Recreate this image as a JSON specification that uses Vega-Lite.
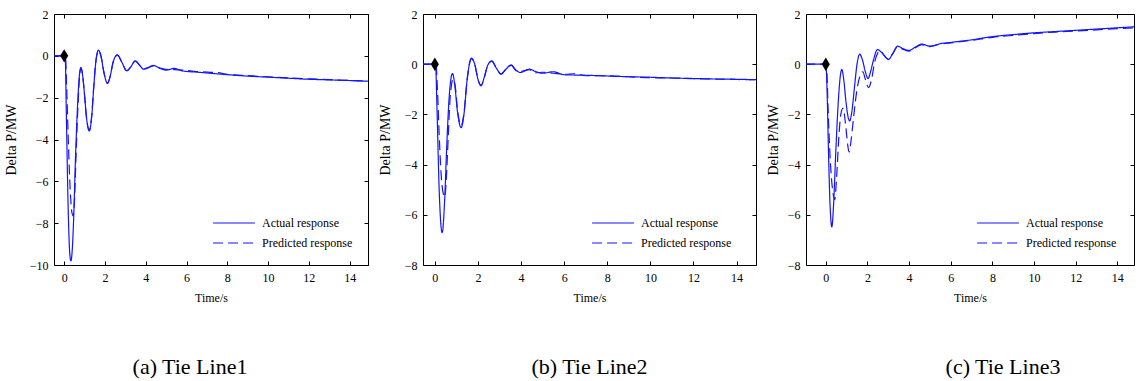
{
  "$schema": "https://vega.github.io/schema/vega-lite/v6.json",
  "padding": {"left": 3, "top": 7, "right": 0, "bottom": 0},
  "background": "white",
  "spacing": 8,
  "resolve": {"scale": {"strokeDash": "independent"}, "legend": {"strokeDash": "independent"}},
  "datasets": {
    "curves": [
      {"p":"a","s":"A","t":-0.5,"v":0},{"p":"a","s":"A","t":0,"v":0},{"p":"a","s":"A","t":0.05,"v":0},{"p":"a","s":"A","t":0.1,"v":-2.5},{"p":"a","s":"A","t":0.2,"v":-7.5},{"p":"a","s":"A","t":0.27,"v":-9.4},{"p":"a","s":"A","t":0.33,"v":-9.8},{"p":"a","s":"A","t":0.4,"v":-9.2},{"p":"a","s":"A","t":0.47,"v":-7.6},{"p":"a","s":"A","t":0.55,"v":-5},{"p":"a","s":"A","t":0.65,"v":-2.5},{"p":"a","s":"A","t":0.75,"v":-0.9},{"p":"a","s":"A","t":0.82,"v":-0.56},{"p":"a","s":"A","t":0.9,"v":-0.9},{"p":"a","s":"A","t":1.0,"v":-1.9},{"p":"a","s":"A","t":1.1,"v":-3.0},{"p":"a","s":"A","t":1.23,"v":-3.59},{"p":"a","s":"A","t":1.35,"v":-2.9},{"p":"a","s":"A","t":1.45,"v":-1.5},{"p":"a","s":"A","t":1.55,"v":-0.3},{"p":"a","s":"A","t":1.68,"v":0.27},{"p":"a","s":"A","t":1.8,"v":0.0},{"p":"a","s":"A","t":1.95,"v":-0.8},{"p":"a","s":"A","t":2.12,"v":-1.32},{"p":"a","s":"A","t":2.25,"v":-1.0},{"p":"a","s":"A","t":2.4,"v":-0.3},{"p":"a","s":"A","t":2.61,"v":0.05},{"p":"a","s":"A","t":2.8,"v":-0.25},{"p":"a","s":"A","t":3.07,"v":-0.72},{"p":"a","s":"A","t":3.25,"v":-0.55},{"p":"a","s":"A","t":3.48,"v":-0.24},{"p":"a","s":"A","t":3.7,"v":-0.45},{"p":"a","s":"A","t":3.89,"v":-0.64},{"p":"a","s":"A","t":4.1,"v":-0.58},{"p":"a","s":"A","t":4.38,"v":-0.46},{"p":"a","s":"A","t":4.7,"v":-0.6},{"p":"a","s":"A","t":5.0,"v":-0.68},{"p":"a","s":"A","t":5.4,"v":-0.6},{"p":"a","s":"A","t":5.8,"v":-0.72},{"p":"a","s":"A","t":6.5,"v":-0.78},{"p":"a","s":"A","t":7,"v":-0.82},{"p":"a","s":"A","t":8,"v":-0.9},{"p":"a","s":"A","t":9,"v":-0.97},{"p":"a","s":"A","t":10,"v":-1.02},{"p":"a","s":"A","t":11,"v":-1.07},{"p":"a","s":"A","t":12,"v":-1.12},{"p":"a","s":"A","t":13,"v":-1.15},{"p":"a","s":"A","t":14,"v":-1.18},{"p":"a","s":"A","t":15,"v":-1.22},
      {"p":"a","s":"P","t":-0.5,"v":0},{"p":"a","s":"P","t":0,"v":0},{"p":"a","s":"P","t":0.06,"v":0},{"p":"a","s":"P","t":0.12,"v":-1.5},{"p":"a","s":"P","t":0.2,"v":-4},{"p":"a","s":"P","t":0.3,"v":-6.5},{"p":"a","s":"P","t":0.38,"v":-7.5},{"p":"a","s":"P","t":0.44,"v":-7.65},{"p":"a","s":"P","t":0.5,"v":-7},{"p":"a","s":"P","t":0.58,"v":-4.8},{"p":"a","s":"P","t":0.68,"v":-2.3},{"p":"a","s":"P","t":0.76,"v":-0.9},{"p":"a","s":"P","t":0.82,"v":-0.6},{"p":"a","s":"P","t":0.9,"v":-0.9},{"p":"a","s":"P","t":1.0,"v":-1.9},{"p":"a","s":"P","t":1.1,"v":-3.0},{"p":"a","s":"P","t":1.23,"v":-3.55},{"p":"a","s":"P","t":1.35,"v":-2.85},{"p":"a","s":"P","t":1.45,"v":-1.45},{"p":"a","s":"P","t":1.55,"v":-0.3},{"p":"a","s":"P","t":1.68,"v":0.25},{"p":"a","s":"P","t":1.8,"v":0.0},{"p":"a","s":"P","t":1.95,"v":-0.8},{"p":"a","s":"P","t":2.12,"v":-1.3},{"p":"a","s":"P","t":2.25,"v":-1.0},{"p":"a","s":"P","t":2.4,"v":-0.3},{"p":"a","s":"P","t":2.61,"v":0.03},{"p":"a","s":"P","t":2.8,"v":-0.25},{"p":"a","s":"P","t":3.07,"v":-0.7},{"p":"a","s":"P","t":3.25,"v":-0.55},{"p":"a","s":"P","t":3.48,"v":-0.26},{"p":"a","s":"P","t":3.7,"v":-0.45},{"p":"a","s":"P","t":3.89,"v":-0.62},{"p":"a","s":"P","t":4.1,"v":-0.56},{"p":"a","s":"P","t":4.38,"v":-0.48},{"p":"a","s":"P","t":4.7,"v":-0.58},{"p":"a","s":"P","t":5.0,"v":-0.65},{"p":"a","s":"P","t":5.4,"v":-0.66},{"p":"a","s":"P","t":5.8,"v":-0.68},{"p":"a","s":"P","t":6.5,"v":-0.75},{"p":"a","s":"P","t":7,"v":-0.78},{"p":"a","s":"P","t":7.5,"v":-0.8},{"p":"a","s":"P","t":8,"v":-0.88},{"p":"a","s":"P","t":9,"v":-0.95},{"p":"a","s":"P","t":10,"v":-1.0},{"p":"a","s":"P","t":11,"v":-1.06},{"p":"a","s":"P","t":12,"v":-1.1},{"p":"a","s":"P","t":13,"v":-1.14},{"p":"a","s":"P","t":14,"v":-1.18},{"p":"a","s":"P","t":15,"v":-1.21},
      {"p":"b","s":"A","t":-0.6,"v":0},{"p":"b","s":"A","t":0,"v":0},{"p":"b","s":"A","t":0.03,"v":0},{"p":"b","s":"A","t":0.1,"v":-1.8},{"p":"b","s":"A","t":0.2,"v":-5},{"p":"b","s":"A","t":0.34,"v":-6.71},{"p":"b","s":"A","t":0.45,"v":-5.5},{"p":"b","s":"A","t":0.55,"v":-3.3},{"p":"b","s":"A","t":0.65,"v":-1.5},{"p":"b","s":"A","t":0.75,"v":-0.55},{"p":"b","s":"A","t":0.82,"v":-0.37},{"p":"b","s":"A","t":0.92,"v":-0.8},{"p":"b","s":"A","t":1.05,"v":-1.9},{"p":"b","s":"A","t":1.22,"v":-2.53},{"p":"b","s":"A","t":1.35,"v":-2},{"p":"b","s":"A","t":1.5,"v":-0.6},{"p":"b","s":"A","t":1.7,"v":0.24},{"p":"b","s":"A","t":1.85,"v":0},{"p":"b","s":"A","t":2.0,"v":-0.6},{"p":"b","s":"A","t":2.14,"v":-0.86},{"p":"b","s":"A","t":2.3,"v":-0.5},{"p":"b","s":"A","t":2.45,"v":-0.05},{"p":"b","s":"A","t":2.64,"v":0.13},{"p":"b","s":"A","t":2.85,"v":-0.15},{"p":"b","s":"A","t":3.07,"v":-0.4},{"p":"b","s":"A","t":3.3,"v":-0.2},{"p":"b","s":"A","t":3.54,"v":-0.03},{"p":"b","s":"A","t":3.75,"v":-0.22},{"p":"b","s":"A","t":3.95,"v":-0.33},{"p":"b","s":"A","t":4.15,"v":-0.28},{"p":"b","s":"A","t":4.38,"v":-0.2},{"p":"b","s":"A","t":4.7,"v":-0.3},{"p":"b","s":"A","t":5.0,"v":-0.36},{"p":"b","s":"A","t":5.5,"v":-0.3},{"p":"b","s":"A","t":6,"v":-0.42},{"p":"b","s":"A","t":7,"v":-0.44},{"p":"b","s":"A","t":8,"v":-0.47},{"p":"b","s":"A","t":9,"v":-0.5},{"p":"b","s":"A","t":10,"v":-0.52},{"p":"b","s":"A","t":11,"v":-0.55},{"p":"b","s":"A","t":12,"v":-0.57},{"p":"b","s":"A","t":13,"v":-0.59},{"p":"b","s":"A","t":14,"v":-0.6},{"p":"b","s":"A","t":15,"v":-0.62},
      {"p":"b","s":"P","t":-0.6,"v":0},{"p":"b","s":"P","t":0,"v":0},{"p":"b","s":"P","t":0.05,"v":0},{"p":"b","s":"P","t":0.12,"v":-1},{"p":"b","s":"P","t":0.2,"v":-2.8},{"p":"b","s":"P","t":0.3,"v":-4.5},{"p":"b","s":"P","t":0.4,"v":-5.2},{"p":"b","s":"P","t":0.46,"v":-5.3},{"p":"b","s":"P","t":0.53,"v":-4.6},{"p":"b","s":"P","t":0.62,"v":-2.9},{"p":"b","s":"P","t":0.72,"v":-1.2},{"p":"b","s":"P","t":0.85,"v":-0.6},{"p":"b","s":"P","t":0.95,"v":-0.9},{"p":"b","s":"P","t":1.05,"v":-1.8},{"p":"b","s":"P","t":1.22,"v":-2.45},{"p":"b","s":"P","t":1.35,"v":-1.95},{"p":"b","s":"P","t":1.5,"v":-0.6},{"p":"b","s":"P","t":1.7,"v":0.22},{"p":"b","s":"P","t":1.85,"v":0},{"p":"b","s":"P","t":2.0,"v":-0.6},{"p":"b","s":"P","t":2.14,"v":-0.84},{"p":"b","s":"P","t":2.3,"v":-0.5},{"p":"b","s":"P","t":2.45,"v":-0.05},{"p":"b","s":"P","t":2.64,"v":0.12},{"p":"b","s":"P","t":2.85,"v":-0.15},{"p":"b","s":"P","t":3.07,"v":-0.38},{"p":"b","s":"P","t":3.3,"v":-0.2},{"p":"b","s":"P","t":3.54,"v":-0.05},{"p":"b","s":"P","t":3.75,"v":-0.25},{"p":"b","s":"P","t":3.95,"v":-0.3},{"p":"b","s":"P","t":4.15,"v":-0.25},{"p":"b","s":"P","t":4.38,"v":-0.22},{"p":"b","s":"P","t":4.7,"v":-0.34},{"p":"b","s":"P","t":5.0,"v":-0.32},{"p":"b","s":"P","t":5.5,"v":-0.36},{"p":"b","s":"P","t":6,"v":-0.4},{"p":"b","s":"P","t":6.5,"v":-0.38},{"p":"b","s":"P","t":7,"v":-0.46},{"p":"b","s":"P","t":8,"v":-0.46},{"p":"b","s":"P","t":9,"v":-0.5},{"p":"b","s":"P","t":10,"v":-0.54},{"p":"b","s":"P","t":11,"v":-0.55},{"p":"b","s":"P","t":12,"v":-0.58},{"p":"b","s":"P","t":13,"v":-0.59},{"p":"b","s":"P","t":14,"v":-0.61},{"p":"b","s":"P","t":15,"v":-0.62},
      {"p":"c","s":"A","t":-1,"v":0},{"p":"c","s":"A","t":0,"v":0},{"p":"c","s":"A","t":0.06,"v":-1},{"p":"c","s":"A","t":0.13,"v":-3.5},{"p":"c","s":"A","t":0.2,"v":-5.5},{"p":"c","s":"A","t":0.29,"v":-6.48},{"p":"c","s":"A","t":0.38,"v":-5.5},{"p":"c","s":"A","t":0.48,"v":-3.5},{"p":"c","s":"A","t":0.6,"v":-1.5},{"p":"c","s":"A","t":0.7,"v":-0.45},{"p":"c","s":"A","t":0.77,"v":-0.21},{"p":"c","s":"A","t":0.86,"v":-0.6},{"p":"c","s":"A","t":0.97,"v":-1.5},{"p":"c","s":"A","t":1.07,"v":-2.1},{"p":"c","s":"A","t":1.15,"v":-2.26},{"p":"c","s":"A","t":1.25,"v":-1.9},{"p":"c","s":"A","t":1.38,"v":-0.9},{"p":"c","s":"A","t":1.5,"v":0},{"p":"c","s":"A","t":1.63,"v":0.4},{"p":"c","s":"A","t":1.75,"v":0.2},{"p":"c","s":"A","t":1.9,"v":-0.3},{"p":"c","s":"A","t":2.03,"v":-0.57},{"p":"c","s":"A","t":2.15,"v":-0.3},{"p":"c","s":"A","t":2.3,"v":0.2},{"p":"c","s":"A","t":2.48,"v":0.58},{"p":"c","s":"A","t":2.7,"v":0.45},{"p":"c","s":"A","t":3.01,"v":0.19},{"p":"c","s":"A","t":3.2,"v":0.4},{"p":"c","s":"A","t":3.45,"v":0.72},{"p":"c","s":"A","t":3.7,"v":0.62},{"p":"c","s":"A","t":4.0,"v":0.55},{"p":"c","s":"A","t":4.3,"v":0.68},{"p":"c","s":"A","t":4.6,"v":0.8},{"p":"c","s":"A","t":5.0,"v":0.72},{"p":"c","s":"A","t":5.5,"v":0.82},{"p":"c","s":"A","t":6,"v":0.87},{"p":"c","s":"A","t":7,"v":0.97},{"p":"c","s":"A","t":8,"v":1.1},{"p":"c","s":"A","t":9,"v":1.18},{"p":"c","s":"A","t":10,"v":1.25},{"p":"c","s":"A","t":11,"v":1.3},{"p":"c","s":"A","t":12,"v":1.35},{"p":"c","s":"A","t":13,"v":1.4},{"p":"c","s":"A","t":14,"v":1.45},{"p":"c","s":"A","t":15,"v":1.5},
      {"p":"c","s":"P","t":-1,"v":0},{"p":"c","s":"P","t":0,"v":0},{"p":"c","s":"P","t":0.05,"v":-0.3},{"p":"c","s":"P","t":0.12,"v":-2},{"p":"c","s":"P","t":0.2,"v":-3.6},{"p":"c","s":"P","t":0.3,"v":-4.8},{"p":"c","s":"P","t":0.43,"v":-5.4},{"p":"c","s":"P","t":0.52,"v":-4.5},{"p":"c","s":"P","t":0.62,"v":-3},{"p":"c","s":"P","t":0.72,"v":-2.0},{"p":"c","s":"P","t":0.83,"v":-1.75},{"p":"c","s":"P","t":0.95,"v":-2.4},{"p":"c","s":"P","t":1.05,"v":-3.2},{"p":"c","s":"P","t":1.12,"v":-3.5},{"p":"c","s":"P","t":1.22,"v":-3.0},{"p":"c","s":"P","t":1.35,"v":-2.0},{"p":"c","s":"P","t":1.5,"v":-1.0},{"p":"c","s":"P","t":1.65,"v":-0.45},{"p":"c","s":"P","t":1.78,"v":-0.3},{"p":"c","s":"P","t":1.9,"v":-0.6},{"p":"c","s":"P","t":2.05,"v":-0.93},{"p":"c","s":"P","t":2.2,"v":-0.6},{"p":"c","s":"P","t":2.35,"v":0.1},{"p":"c","s":"P","t":2.5,"v":0.45},{"p":"c","s":"P","t":2.6,"v":0.55},{"p":"c","s":"P","t":2.8,"v":0.35},{"p":"c","s":"P","t":3.0,"v":0.2},{"p":"c","s":"P","t":3.2,"v":0.4},{"p":"c","s":"P","t":3.45,"v":0.7},{"p":"c","s":"P","t":3.7,"v":0.6},{"p":"c","s":"P","t":4.0,"v":0.52},{"p":"c","s":"P","t":4.3,"v":0.65},{"p":"c","s":"P","t":4.6,"v":0.78},{"p":"c","s":"P","t":5.0,"v":0.7},{"p":"c","s":"P","t":5.5,"v":0.8},{"p":"c","s":"P","t":6,"v":0.85},{"p":"c","s":"P","t":7,"v":0.95},{"p":"c","s":"P","t":8,"v":1.07},{"p":"c","s":"P","t":9,"v":1.15},{"p":"c","s":"P","t":10,"v":1.22},{"p":"c","s":"P","t":11,"v":1.28},{"p":"c","s":"P","t":12,"v":1.32},{"p":"c","s":"P","t":13,"v":1.37},{"p":"c","s":"P","t":14,"v":1.42},{"p":"c","s":"P","t":15,"v":1.45}
    ],
    "marker": [{"t": 0, "v": 0}]
  },
  "hconcat": [
    {
      "width": 314, "height": 251,
      "title": {"text": "(a) Tie Line1", "dx": -21},
      "layer": [
        {
          "data": {"name": "curves"},
          "transform": [{"filter": "datum.p == 'a'"}],
          "mark": {"type": "line", "clip": true, "interpolate": "monotone", "strokeWidth": 1.2, "color": "#1414ff"},
          "encoding": {
            "x": {"field": "t", "type": "quantitative", "scale": {"domain": [-0.5, 14.9], "nice": false, "zero": false}, "axis": {"orient": "bottom", "values": [0,2,4,6,8,10,12,14], "title": "Time/s"}},
            "y": {"field": "v", "type": "quantitative", "scale": {"domain": [-10, 2], "nice": false, "zero": false}, "axis": {"orient": "left", "values": [-10,-8,-6,-4,-2,0,2], "title": "Delta P/MW", "titlePadding": 11}},
            "strokeDash": {"field": "s", "type": "nominal", "scale": {"domain": ["A", "P"], "range": [[1, 0], [10, 5]]},
              "legend": {"title": null, "orient": "none", "legendX": 158, "legendY": 199, "symbolType": "stroke", "symbolSize": 1750, "symbolStrokeWidth": 1.2, "symbolStrokeColor": "#1414ff", "clipHeight": 20, "rowPadding": 0, "labelOffset": 6, "labelFontSize": 12, "labelFont": "Liberation Serif", "labelColor": "black", "labelExpr": "datum.label == 'A' ? 'Actual response' : 'Predicted response'"}}
          }
        },
        {
          "data": {"name": "marker"},
          "mark": {"type": "point", "shape": "M0,-1L0.6,0L0,1L-0.6,0Z", "filled": true, "color": "black", "opacity": 1, "size": 180},
          "encoding": {
            "x": {"field": "t", "type": "quantitative", "scale": {"domain": [-0.5, 14.9], "nice": false, "zero": false}, "axis": {"orient": "top", "values": [0,2,4,6,8,10,12,14], "labels": false, "title": null}},
            "y": {"field": "v", "type": "quantitative", "scale": {"domain": [-10, 2], "nice": false, "zero": false}, "axis": {"orient": "right", "values": [-10,-8,-6,-4,-2,0,2], "labels": false, "title": null}}
          }
        }
      ],
      "resolve": {"axis": {"x": "independent", "y": "independent"}}
    },
    {
      "width": 333, "height": 251,
      "title": {"text": "(b) Tie Line2", "dx": 0},
      "layer": [
        {
          "data": {"name": "curves"},
          "transform": [{"filter": "datum.p == 'b'"}],
          "mark": {"type": "line", "clip": true, "interpolate": "monotone", "strokeWidth": 1.2, "color": "#1414ff"},
          "encoding": {
            "x": {"field": "t", "type": "quantitative", "scale": {"domain": [-0.55, 14.9], "nice": false, "zero": false}, "axis": {"orient": "bottom", "values": [0,2,4,6,8,10,12,14], "title": "Time/s"}},
            "y": {"field": "v", "type": "quantitative", "scale": {"domain": [-8, 2], "nice": false, "zero": false}, "axis": {"orient": "left", "values": [-8,-6,-4,-2,0,2], "title": "Delta P/MW", "titlePadding": 12}},
            "strokeDash": {"field": "s", "type": "nominal", "scale": {"domain": ["A", "P"], "range": [[1, 0], [10, 5]]},
              "legend": {"title": null, "orient": "none", "legendX": 168, "legendY": 199, "symbolType": "stroke", "symbolSize": 1750, "symbolStrokeWidth": 1.2, "symbolStrokeColor": "#1414ff", "clipHeight": 20, "rowPadding": 0, "labelOffset": 6, "labelFontSize": 12, "labelFont": "Liberation Serif", "labelColor": "black", "labelExpr": "datum.label == 'A' ? 'Actual response' : 'Predicted response'"}}
          }
        },
        {
          "data": {"name": "marker"},
          "mark": {"type": "point", "shape": "M0,-1L0.6,0L0,1L-0.6,0Z", "filled": true, "color": "black", "opacity": 1, "size": 180},
          "encoding": {
            "x": {"field": "t", "type": "quantitative", "scale": {"domain": [-0.55, 14.9], "nice": false, "zero": false}, "axis": {"orient": "top", "values": [0,2,4,6,8,10,12,14], "labels": false, "title": null}},
            "y": {"field": "v", "type": "quantitative", "scale": {"domain": [-8, 2], "nice": false, "zero": false}, "axis": {"orient": "right", "values": [-8,-6,-4,-2,0,2], "labels": false, "title": null}}
          }
        }
      ],
      "resolve": {"axis": {"x": "independent", "y": "independent"}}
    },
    {
      "width": 328, "height": 251,
      "title": {"text": "(c) Tie Line3", "dx": 33},
      "layer": [
        {
          "data": {"name": "curves"},
          "transform": [{"filter": "datum.p == 'c'"}],
          "mark": {"type": "line", "clip": true, "interpolate": "monotone", "strokeWidth": 1.2, "color": "#1414ff"},
          "encoding": {
            "x": {"field": "t", "type": "quantitative", "scale": {"domain": [-0.95, 14.8], "nice": false, "zero": false}, "axis": {"orient": "bottom", "values": [0,2,4,6,8,10,12,14], "title": "Time/s"}},
            "y": {"field": "v", "type": "quantitative", "scale": {"domain": [-8, 2], "nice": false, "zero": false}, "axis": {"orient": "left", "values": [-8,-6,-4,-2,0,2], "title": "Delta P/MW", "titlePadding": 7}},
            "strokeDash": {"field": "s", "type": "nominal", "scale": {"domain": ["A", "P"], "range": [[1, 0], [10, 5]]},
              "legend": {"title": null, "orient": "none", "legendX": 170, "legendY": 199, "symbolType": "stroke", "symbolSize": 1750, "symbolStrokeWidth": 1.2, "symbolStrokeColor": "#1414ff", "clipHeight": 20, "rowPadding": 0, "labelOffset": 6, "labelFontSize": 12, "labelFont": "Liberation Serif", "labelColor": "black", "labelExpr": "datum.label == 'A' ? 'Actual response' : 'Predicted response'"}}
          }
        },
        {
          "data": {"name": "marker"},
          "mark": {"type": "point", "shape": "M0,-1L0.6,0L0,1L-0.6,0Z", "filled": true, "color": "black", "opacity": 1, "size": 180},
          "encoding": {
            "x": {"field": "t", "type": "quantitative", "scale": {"domain": [-0.95, 14.8], "nice": false, "zero": false}, "axis": {"orient": "top", "values": [0,2,4,6,8,10,12,14], "labels": false, "title": null}},
            "y": {"field": "v", "type": "quantitative", "scale": {"domain": [-8, 2], "nice": false, "zero": false}, "axis": {"orient": "right", "values": [-8,-6,-4,-2,0,2], "labels": false, "title": null}}
          }
        }
      ],
      "resolve": {"axis": {"x": "independent", "y": "independent"}}
    }
  ],
  "config": {
    "font": "Liberation Serif",
    "view": {"stroke": "black", "strokeWidth": 1},
    "axis": {"grid": false, "domain": false, "tickColor": "black", "tickSize": -4, "tickWidth": 1, "labelPadding": 10, "labelFont": "Liberation Serif", "labelFontSize": 12, "labelColor": "black", "titleFont": "Liberation Serif", "titleFontWeight": "normal", "titleColor": "black", "titleFontSize": 12},
    "axisX": {"titlePadding": 9, "labelPadding": 11},
    "axisY": {"titleFontSize": 14},
    "title": {"orient": "bottom", "anchor": "middle", "font": "Liberation Serif", "fontSize": 22, "fontWeight": "normal", "color": "black", "offset": 54}
  }
}
